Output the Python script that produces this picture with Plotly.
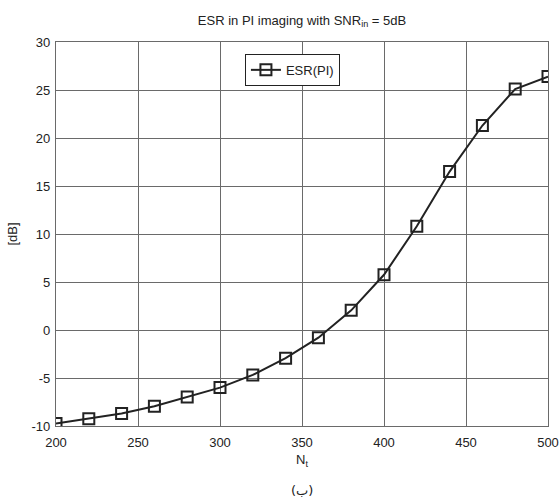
import plotly.graph_objects as go

# ESR of PI imaging versus number of transmit samples N_t
n_t = [200, 220, 240, 260, 280, 300, 320, 340, 360, 380, 400, 420, 440, 460, 480, 500]
esr_db = [-9.75, -9.25, -8.7, -7.95, -6.98, -6.0, -4.68, -2.93, -0.8, 2.05, 5.75,
          10.8, 16.5, 21.3, 25.1, 26.4]

x_ticks = [200, 250, 300, 350, 400, 450, 500]
y_ticks = [-10, -5, 0, 5, 10, 15, 20, 25, 30]

FONT = "Liberation Sans, Arial, Helvetica, sans-serif"
INK = "#222222"
GRID = "#6a6a6a"

fig = go.Figure()
fig.add_trace(go.Scatter(
    x=n_t, y=esr_db, mode="lines+markers", name="ESR(PI)",
    line=dict(color=INK, width=2),
    marker=dict(symbol="square-open", size=11, color=INK, line=dict(width=2, color=INK)),
))

axis_common = dict(
    showgrid=True, gridcolor=GRID, gridwidth=1.3,
    showline=True, linecolor=GRID, linewidth=1.3, mirror="ticks",
    ticks="inside", ticklen=5, tickcolor=GRID,
    zeroline=False,
    tickfont=dict(family=FONT, size=13, color=INK),
)

fig.update_xaxes(range=[200, 500], tickvals=x_ticks, ticktext=[str(v) for v in x_ticks],
                 title=dict(text="N<sub>t</sub>", font=dict(family=FONT, size=13, color=INK), standoff=6),
                 ticklabelstandoff=4, **axis_common)
fig.update_yaxes(range=[-10, 30], tickvals=y_ticks, ticktext=[str(v) for v in y_ticks],
                 title=dict(text="[dB]", font=dict(family=FONT, size=13, color=INK), standoff=10),
                 ticklabelstandoff=2, **axis_common)

fig.update_layout(
    width=560, height=502,
    margin=dict(l=56, r=12, t=42, b=76, autoexpand=False),
    paper_bgcolor="white", plot_bgcolor="white",
    font=dict(family=FONT, size=13, color=INK),
    title=dict(text="ESR in PI imaging with SNR<sub>in</sub> = 5dB",
               x=(56 + 548) / 2 / 560, xanchor="center",
               y=1 - 20 / 502, yanchor="middle", yref="container",
               font=dict(family=FONT, size=13, color=INK)),
    showlegend=True,
    legend=dict(x=0.384, y=0.969, xanchor="left", yanchor="top",
                bgcolor="white", bordercolor=INK, borderwidth=1,
                font=dict(family=FONT, size=13, color=INK)),
    annotations=[dict(text="(ب)", xref="paper", yref="paper",
                      x=0.5, y=-(490 - 426) / 384, xanchor="center", yanchor="middle",
                      showarrow=False, font=dict(family="DejaVu Sans, " + FONT, size=13, color=INK))],
)

fig.write_html("out.html")
